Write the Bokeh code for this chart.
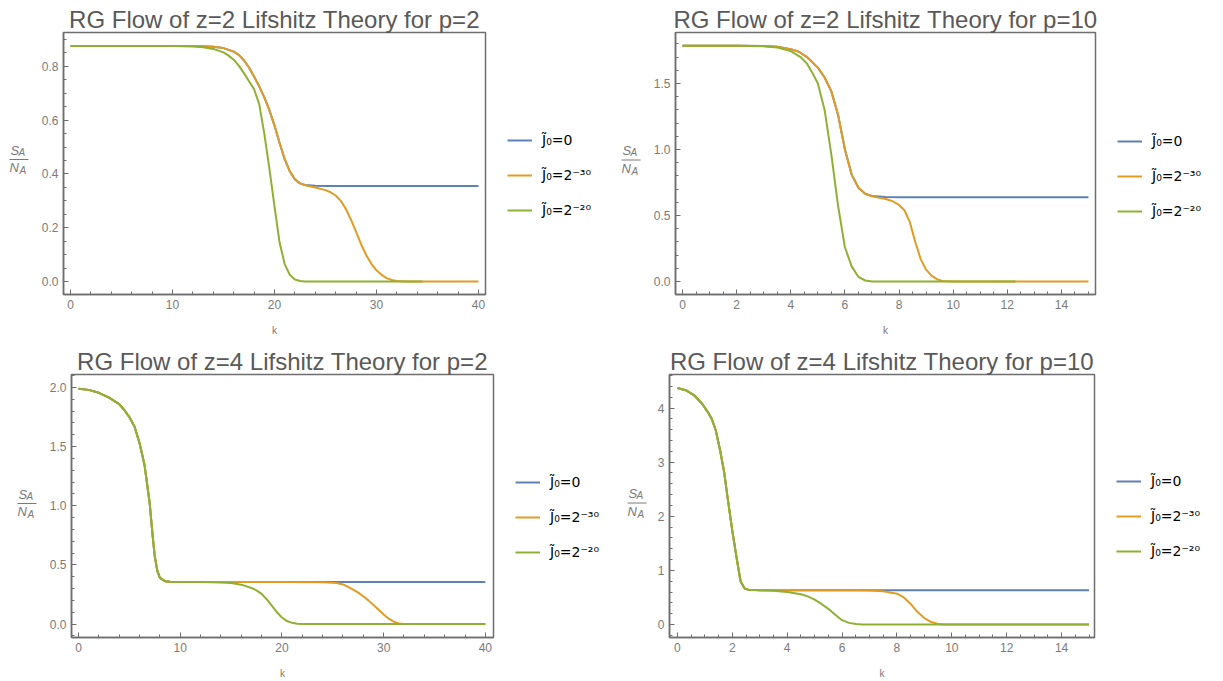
import numpy as np
from bokeh.plotting import figure
from bokeh.models import (FixedTicker, NumeralTickFormatter, Legend, LegendItem,
                          Label, Range1d)
from bokeh.layouts import column, row
from bokeh.embed import file_html
from bokeh.resources import INLINE

# ---------------- data ----------------
titles = ["RG Flow of z=2 Lifshitz Theory for p=2",
          "RG Flow of z=2 Lifshitz Theory for p=10",
          "RG Flow of z=4 Lifshitz Theory for p=2",
          "RG Flow of z=4 Lifshitz Theory for p=10"]
series_labels = ["J\u0303\u2080=0", "J\u0303\u2080=2\u207b\u00b3\u2070", "J\u0303\u2080=2\u207b\u00b2\u2070"]
x_label = "k"

# panel 1: z=2, p=2
p1_k_blue = [0, 5, 10, 12, 13, 14, 15, 16, 16.5, 17, 17.5, 18, 18.5, 19, 19.5, 20, 20.5, 21, 21.5, 22, 22.5, 23, 24, 25, 30, 35, 40]
p1_v_blue = [0.876, 0.876, 0.876, 0.876, 0.875, 0.873, 0.868, 0.855, 0.843, 0.823, 0.796, 0.762, 0.726, 0.685, 0.637, 0.58, 0.515, 0.455, 0.41, 0.38, 0.365, 0.359, 0.356, 0.355, 0.355, 0.355, 0.355]
p1_k_orange = [0, 5, 10, 12, 13, 14, 15, 16, 16.5, 17, 17.5, 18, 18.5, 19, 19.5, 20, 20.5, 21, 21.5, 22, 22.5, 23, 24, 25, 25.5, 26, 26.5, 27, 27.5, 28, 28.5, 29, 29.5, 30, 30.5, 31, 31.5, 32, 33, 35, 40]
p1_v_orange = [0.876, 0.876, 0.876, 0.876, 0.875, 0.873, 0.868, 0.855, 0.843, 0.823, 0.796, 0.762, 0.726, 0.685, 0.637, 0.58, 0.515, 0.455, 0.41, 0.38, 0.365, 0.358, 0.35, 0.34, 0.332, 0.32, 0.3, 0.27, 0.23, 0.185, 0.138, 0.098, 0.066, 0.042, 0.025, 0.013, 0.006, 0.002, 0.0, 0.0, 0.0]
p1_k_green = [0, 5, 10, 12, 13, 14, 15, 15.5, 16, 16.5, 17, 17.5, 18, 18.5, 19, 19.5, 20, 20.5, 21, 21.5, 22, 22.5, 23, 30, 34.5]
p1_v_green = [0.876, 0.876, 0.876, 0.874, 0.871, 0.865, 0.852, 0.84, 0.825, 0.803, 0.775, 0.745, 0.715, 0.66, 0.55, 0.42, 0.28, 0.145, 0.065, 0.025, 0.008, 0.002, 0.0, 0.0, 0.0]

# panel 2: z=2, p=10
p2_k_blue = [0, 2, 3, 3.5, 4, 4.3, 4.6, 5, 5.25, 5.5, 5.75, 6, 6.25, 6.5, 6.75, 7, 7.5, 8, 10, 12, 15]
p2_v_blue = [1.785, 1.785, 1.783, 1.778, 1.76, 1.74, 1.70, 1.62, 1.545, 1.44, 1.26, 1.0, 0.81, 0.71, 0.665, 0.648, 0.64, 0.638, 0.638, 0.638, 0.638]
p2_k_orange = [0, 2, 3, 3.5, 4, 4.3, 4.6, 5, 5.25, 5.5, 5.75, 6, 6.25, 6.5, 6.75, 7, 7.5, 7.75, 8, 8.2, 8.4, 8.6, 8.8, 9, 9.2, 9.4, 9.6, 10, 12, 15]
p2_v_orange = [1.785, 1.785, 1.783, 1.778, 1.76, 1.74, 1.70, 1.62, 1.545, 1.44, 1.26, 1.0, 0.81, 0.71, 0.665, 0.645, 0.625, 0.61, 0.58, 0.54, 0.45, 0.3, 0.17, 0.09, 0.045, 0.018, 0.005, 0.0, 0.0, 0.0]
p2_k_green = [0, 2, 3, 3.5, 4, 4.36, 4.6, 4.8, 5, 5.25, 5.5, 5.75, 6, 6.25, 6.5, 6.75, 7, 7.5, 10, 12.3]
p2_v_green = [1.785, 1.785, 1.782, 1.772, 1.745, 1.70, 1.65, 1.58, 1.50, 1.30, 0.96, 0.57, 0.26, 0.115, 0.035, 0.008, 0.001, 0.0, 0.0, 0.0]

# panel 3: z=4, p=2
p3_k_blue = [0, 1, 2, 3, 4, 4.5, 5, 5.5, 6, 6.5, 7, 7.25, 7.5, 7.75, 8, 8.5, 9, 10, 20, 30, 40]
p3_v_blue = [1.99, 1.98, 1.955, 1.915, 1.86, 1.81, 1.75, 1.67, 1.53, 1.34, 1.02, 0.78, 0.57, 0.45, 0.39, 0.362, 0.357, 0.355, 0.355, 0.355, 0.355]
p3_k_orange = [0, 1, 2, 3, 4, 4.5, 5, 5.5, 6, 6.5, 7, 7.25, 7.5, 7.75, 8, 8.5, 9, 10, 20, 24, 25, 25.5, 26, 26.5, 27, 27.5, 28, 28.5, 29, 29.5, 30, 30.5, 31, 31.5, 32, 40]
p3_v_orange = [1.99, 1.98, 1.955, 1.915, 1.86, 1.81, 1.75, 1.67, 1.53, 1.34, 1.02, 0.78, 0.57, 0.45, 0.39, 0.362, 0.357, 0.355, 0.355, 0.354, 0.35, 0.345, 0.335, 0.315, 0.29, 0.265, 0.235, 0.2, 0.16, 0.12, 0.08, 0.045, 0.02, 0.005, 0.0, 0.0]
p3_k_green = [0, 1, 2, 3, 4, 4.5, 5, 5.5, 6, 6.5, 7, 7.25, 7.5, 7.75, 8, 8.5, 9, 10, 12, 14, 15, 16, 17, 17.5, 18, 18.5, 19, 19.5, 20, 20.5, 21, 21.5, 22, 40]
p3_v_green = [1.99, 1.98, 1.955, 1.915, 1.86, 1.81, 1.75, 1.67, 1.53, 1.34, 1.02, 0.78, 0.57, 0.45, 0.39, 0.362, 0.357, 0.355, 0.355, 0.352, 0.347, 0.333, 0.305, 0.285, 0.255, 0.21, 0.155, 0.1, 0.055, 0.025, 0.01, 0.003, 0.0, 0.0]

# panel 4: z=4, p=10
p4_k_blue = [0, 0.3, 0.6, 0.9, 1.1, 1.25, 1.4, 1.55, 1.7, 1.85, 2.0, 2.15, 2.3, 2.45, 2.6, 2.8, 3, 6, 10, 15]
p4_v_blue = [4.37, 4.33, 4.24, 4.08, 3.93, 3.8, 3.58, 3.23, 2.82, 2.26, 1.73, 1.25, 0.8, 0.665, 0.64, 0.637, 0.635, 0.635, 0.635, 0.635]
p4_k_orange = [0, 0.3, 0.6, 0.9, 1.1, 1.25, 1.4, 1.55, 1.7, 1.85, 2.0, 2.15, 2.3, 2.45, 2.6, 2.8, 3, 6, 6.5, 7, 7.5, 8, 8.25, 8.5, 8.75, 9, 9.25, 9.5, 9.75, 10, 15]
p4_v_orange = [4.37, 4.33, 4.24, 4.08, 3.93, 3.8, 3.58, 3.23, 2.82, 2.26, 1.73, 1.25, 0.8, 0.665, 0.64, 0.637, 0.635, 0.635, 0.635, 0.63, 0.615, 0.57, 0.5, 0.38, 0.23, 0.12, 0.045, 0.01, 0.002, 0.0, 0.0]
p4_k_green = [0, 0.3, 0.6, 0.9, 1.1, 1.25, 1.4, 1.55, 1.7, 1.85, 2.0, 2.15, 2.3, 2.45, 2.6, 2.8, 3, 3.5, 4, 4.5, 4.75, 5, 5.25, 5.5, 5.75, 6, 6.25, 6.5, 6.75, 7, 15]
p4_v_green = [4.37, 4.33, 4.24, 4.08, 3.93, 3.8, 3.58, 3.23, 2.82, 2.26, 1.73, 1.25, 0.8, 0.665, 0.64, 0.637, 0.633, 0.625, 0.6, 0.56, 0.52, 0.46, 0.38, 0.29, 0.18, 0.08, 0.03, 0.008, 0.002, 0.0, 0.0]

# tick labels
p1_xticks = [0, 10, 20, 30, 40]
p1_yticks = [0.0, 0.2, 0.4, 0.6, 0.8]
p2_xticks = [0, 2, 4, 6, 8, 10, 12, 14]
p2_yticks = [0.0, 0.5, 1.0, 1.5]
p3_xticks = [0, 10, 20, 30, 40]
p3_yticks = [0.0, 0.5, 1.0, 1.5, 2.0]
p4_xticks = [0, 2, 4, 6, 8, 10, 12, 14]
p4_yticks = [0, 1, 2, 3, 4]

# ---------------- styling ----------------
COLORS = ["#5E81B5", "#E19C24", "#8FB032"]
FRAME = "#6e6e6e"
TICKLAB = "#7a7a7a"
FONT = "Liberation Sans"


def blank(w, h, t, b, yflip=False):
    # same top/bottom borders as the neighbouring plot so the frames line up;
    # y data units == canvas pixels
    yr = Range1d(h - b, t) if yflip else Range1d(b, h - t)
    f = figure(width=w, height=h, output_backend="svg", toolbar_location=None,
               x_axis_type=None, y_axis_type=None,
               x_range=Range1d(0, w), y_range=yr,
               min_border=0, min_border_left=0, min_border_right=0,
               min_border_top=t, min_border_bottom=b)
    f.outline_line_color = None
    f.background_fill_color = "white"
    f.border_fill_color = "white"
    return f


def fraction_fig(w, h, t, b, fx, fy):
    f = blank(w, h, t, b, yflip=True)
    common = dict(text_font=FONT, text_color=TICKLAB, text_font_style="italic",
                  text_baseline="alphabetic", text_align="left")
    f.add_layout(Label(x=fx + 1, y=fy - 9, text="S", text_font_size="13px", **common))
    f.add_layout(Label(x=fx + 9, y=fy - 7, text="A", text_font_size="10px", **common))
    f.add_layout(Label(x=fx, y=fy + 9, text="N", text_font_size="13px", **common))
    f.add_layout(Label(x=fx + 10, y=fy + 12, text="A", text_font_size="10px", **common))
    f.segment(x0=[fx], y0=[fy + 0.5], x1=[fx + 19], y1=[fy + 0.5], line_color=TICKLAB, line_width=1)
    return f


def legend_fig(w, h, t, b, lx, ly):
    f = blank(w, h, t, b)
    items = []
    for col, lab in zip(COLORS, series_labels):
        rr = f.line(x=[np.nan], y=[np.nan], line_color=col, line_width=2)
        items.append(LegendItem(label=lab, renderers=[rr]))
    leg = Legend(items=items, location=(lx, ly), glyph_width=25, glyph_height=20,
                 label_height=20, spacing=15, padding=0, margin=0,
                 border_line_alpha=0, background_fill_alpha=0,
                 label_text_font="DejaVu Sans", label_text_font_size="14px",
                 label_text_color="black", label_standoff=10)
    f.add_layout(leg, "center")
    return f


def make_panel(title, w, h, borders, xr, yr, xt, xminor_step, yt, yminor_step, yfmt, series):
    l, r, t, b = borders
    p = figure(width=w, height=h, output_backend="svg", toolbar_location=None,
               x_range=Range1d(*xr), y_range=Range1d(*yr),
               min_border_left=l, min_border_right=r, min_border_top=t, min_border_bottom=b)
    p.title.text = title
    p.title.text_font = FONT
    p.title.text_font_size = "24px"
    p.title.text_font_style = "normal"
    p.title.text_color = "#595959"
    p.title.align = "center"
    p.title.standoff = 0
    p.grid.visible = False
    p.outline_line_color = FRAME
    p.outline_line_width = 1.5
    p.background_fill_color = "white"
    p.border_fill_color = "white"

    xminor = list(np.arange(xr[0] - xr[0] % xminor_step, xr[1], xminor_step))
    yminor = list(np.arange(yr[0] - yr[0] % yminor_step, yr[1], yminor_step))
    p.xaxis.ticker = FixedTicker(ticks=xt, minor_ticks=xminor)
    p.yaxis.ticker = FixedTicker(ticks=yt, minor_ticks=yminor)
    p.xaxis.formatter = NumeralTickFormatter(format="0")
    p.yaxis.formatter = NumeralTickFormatter(format=yfmt)
    for ax in (p.xaxis[0], p.yaxis[0]):
        ax.axis_line_color = FRAME
        ax.axis_line_width = 1.5
        ax.major_tick_line_color = FRAME
        ax.minor_tick_line_color = FRAME
        ax.major_tick_in = 5
        ax.major_tick_out = 0
        ax.minor_tick_in = 3
        ax.minor_tick_out = 0
        ax.major_label_text_font = FONT
        ax.major_label_text_font_size = "12px"
        ax.major_label_text_color = TICKLAB
        ax.major_label_standoff = 5
    p.xaxis.axis_label = x_label
    p.xaxis.axis_label_text_font = FONT
    p.xaxis.axis_label_text_font_size = "10px"
    p.xaxis.axis_label_text_font_style = "normal"
    p.xaxis.axis_label_text_color = TICKLAB
    p.xaxis.axis_label_standoff = 13

    for (kk, vv), col in zip(series, COLORS):
        p.line(kk, vv, line_color=col, line_width=2)
    return p


# top-left (611 x 340)
f1 = fraction_fig(34, 340, 32, 45, 9, 159)
p1 = make_panel(titles[0], 459, 340, (29, 8, 32, 45), (-0.69, 40.69), (-0.048, 0.926),
                p1_xticks, 2, p1_yticks, 0.05, "0.0",
                [(p1_k_blue, p1_v_blue), (p1_k_orange, p1_v_orange), (p1_k_green, p1_v_green)])
l1 = legend_fig(118, 340, 32, 45, 14, 74)
# top-right (612 x 340)
f2 = fraction_fig(34, 340, 32, 46, 10, 159)
p2 = make_panel(titles[1], 458, 340, (30, 8, 32, 46), (-0.26, 15.26), (-0.098, 1.886),
                p2_xticks, 0.5, p2_yticks, 0.1, "0.0",
                [(p2_k_blue, p2_v_blue), (p2_k_orange, p2_v_orange), (p2_k_green, p2_v_green)])
l2 = legend_fig(120, 340, 32, 46, 14, 73.5)
# bottom-left (611 x 341)
f3 = fraction_fig(38, 341, 34, 43, 17, 163)
p3 = make_panel(titles[2], 463, 341, (33, 8, 34, 43), (-0.69, 40.8), (-0.114, 2.11),
                p3_xticks, 2, p3_yticks, 0.1, "0.0",
                [(p3_k_blue, p3_v_blue), (p3_k_orange, p3_v_orange), (p3_k_green, p3_v_green)])
l3 = legend_fig(110, 341, 34, 43, 14, 75)
# bottom-right (612 x 341)
f4 = fraction_fig(40, 341, 34, 42, 16, 163)
p4 = make_panel(titles[3], 451, 341, (18, 8, 34, 42), (-0.29, 15.2), (-0.24, 4.62),
                p4_xticks, 0.5, p4_yticks, 0.2, "0",
                [(p4_k_blue, p4_v_blue), (p4_k_orange, p4_v_orange), (p4_k_green, p4_v_green)])
l4 = legend_fig(121, 341, 34, 42, 14, 76)

layout = column(row(f1, p1, l1, f2, p2, l2), row(f3, p3, l3, f4, p4, l4))
open("out.html", "w").write(file_html(layout, INLINE))
